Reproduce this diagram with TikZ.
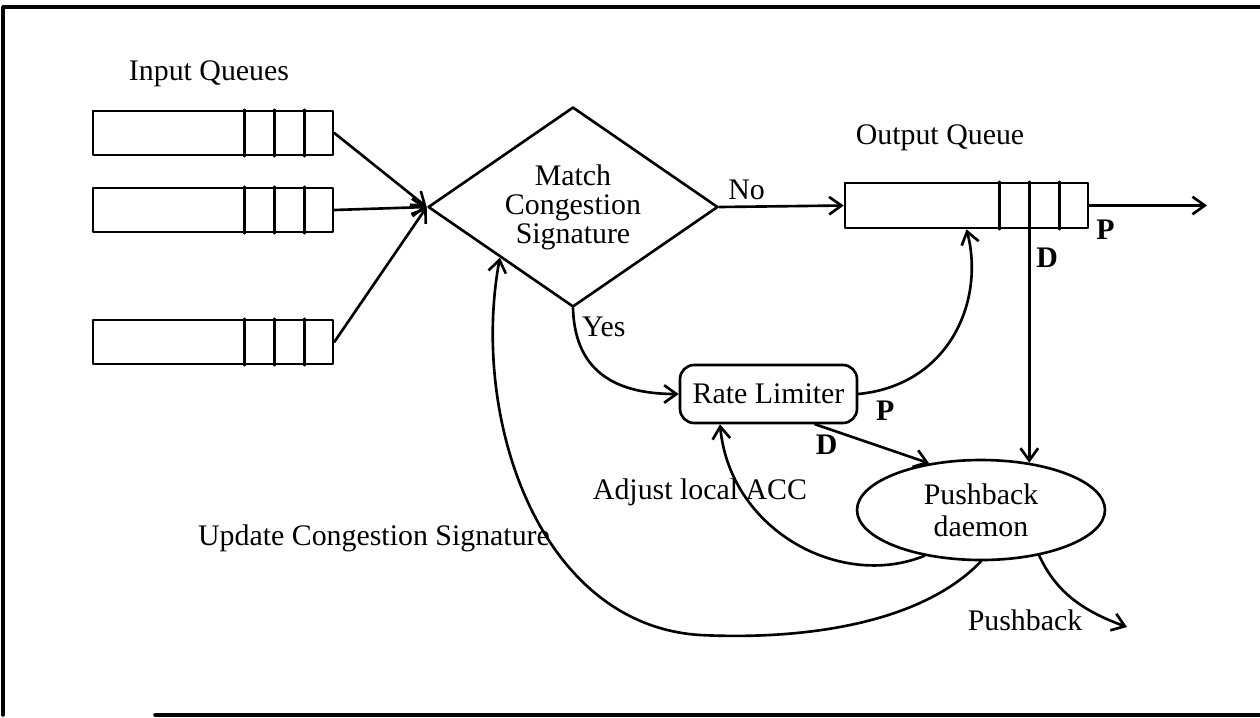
\documentclass[tikz,border=0pt]{standalone}
\usepackage{fontspec}
\setmainfont{Liberation Serif}
\usetikzlibrary{shapes.geometric,arrows.meta,calc}
\begin{document}
\begin{tikzpicture}[x=0.02cm,y=-0.02cm,line width=1.5pt,line join=round,line cap=round,
	font=\fontsize{17pt}{16.5pt}\selectfont,>={Straight Barb[length=7pt,width=10pt]},
	queue/.style={draw,rectangle,minimum width=4.8cm,minimum height=0.88cm,inner sep=0pt},
	lbl/.style={inner sep=1pt}]
	\def\cw{0.6cm}
	\useasboundingbox (0,0) rectangle (1260,717);
	%Frame
	\draw[line width=2pt] (1260,7)--(3,7)--(3,715);
	\draw[line width=2pt] (155,715)--(1260,715);
	%Input queues
	\node[lbl] (iqlabel) at (209,74) {Input Queues};
	\node[queue] (iq1) at (213,133) {};
	\node[queue] (iq2) at (213,210) {};
	\node[queue] (iq3) at (213,342) {};
	\foreach \q in {iq1,iq2,iq3}
		\foreach \i in {1,2,3}
			\draw ([xshift=-\i*\cw]\q.north east)--([xshift=-\i*\cw]\q.south east);
	%Decision
	\node[draw,diamond,aspect=1.45,minimum width=5.8cm,minimum height=4cm,inner sep=0pt,align=center] (dm) at (573,207) {Match\\Congestion\\Signature};
	%Output queue
	\node[lbl] (oqlabel) at (940,138) {Output Queue};
	\node[queue,minimum width=4.86cm,minimum height=0.9cm] (oq) at (966.5,205.5) {};
	\foreach \i in {1,2,3}
		\draw ([xshift=-\i*\cw]oq.north east)--([xshift=-\i*\cw]oq.south east);
	\coordinate (outend) at (1207,205.5);
	\coordinate (oqd) at ([xshift=-2*\cw]oq.south east);
	%Rate limiter and daemon
	\node[draw,rounded corners=8pt,minimum width=3.54cm,minimum height=1.16cm] (rl) at (768.5,394) {Rate Limiter};
	\node[draw,ellipse,minimum width=4.96cm,minimum height=2cm,align=center,font=\fontsize{17pt}{18pt}\selectfont] (pb) at (981,510) {Pushback\\daemon};
	\node[lbl] (adj) at (700,492) {Adjust local ACC};
	\node[lbl] (upd) at (374,538) {Update Congestion Signature};
	\node[lbl] (pbl) at (1025,620) {Pushback};
	\coordinate (pbend) at (1127,627);
	%Arrows
	\foreach \q in {iq1,iq2,iq3}
		\draw[->] (\q.east)--(dm.west);
	\draw[->] (dm.east)--(oq.west) node[pos=0.22,above]{No};
	\draw[->] (oq.east)--(outend) node[pos=0,below right,xshift=0pt,yshift=-4pt]{\textbf{P}};
	\draw[->] (oqd)--(oqd |- pb.44) node[pos=0.12,right]{\textbf{D}};
	\draw[->] (dm.south) .. controls (575,375) and (620,394) .. (rl.west) node[pos=0.1,right]{Yes};
	\draw[->] (rl.east) .. controls (950,385) and (985,300) .. (oq.south) node[pos=0,below right,xshift=6pt]{\textbf{P}};
	\draw[->] (rl.-33)--(pb.138) node[pos=0.1,below]{\textbf{D}};
	\draw[->] (pb.219) .. controls (840,590) and (730,530) .. (rl.212);
	\draw[->] (pb.south) .. controls (920,625) and (800,640) .. (700,635) .. controls (540,625) and (470,420) .. (dm.south west);
	\draw[->] (pb.-38) .. controls (1055,590) and (1080,610) .. (pbend);
\end{tikzpicture}
\end{document}
